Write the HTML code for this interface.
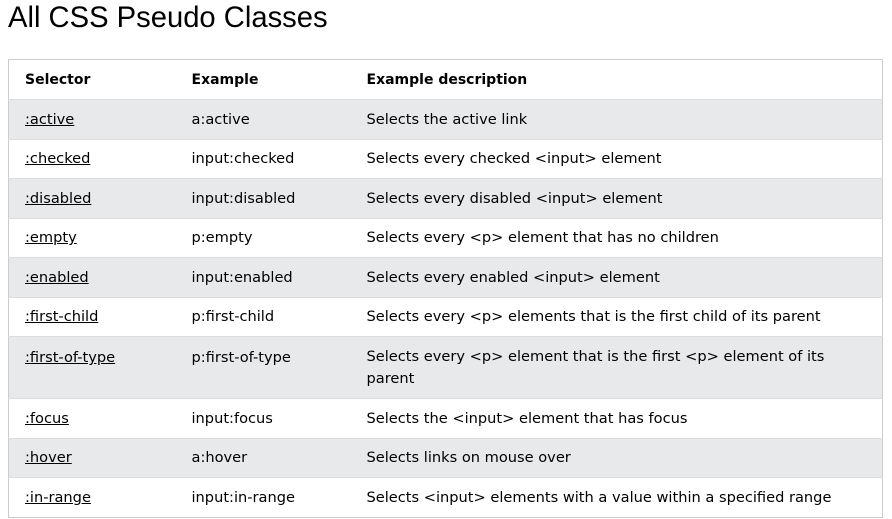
<!DOCTYPE html>
<html><head><style>
body{margin:0;background:#fff;font-family:"DejaVu Sans",sans-serif;color:#000;}
h1{position:absolute;left:8px;top:0px;margin:0;font-weight:normal;font-family:"Liberation Sans",sans-serif;font-size:29.2px;line-height:36px;}
table{position:absolute;left:8px;top:59px;width:875px;border-collapse:collapse;border:1px solid #ccc;font-size:14.6px;}
td,th{text-align:left;padding:1px 0 0 16px;vertical-align:middle;line-height:22px;}
th{height:38px;font-weight:bold;font-size:14px;}
td{height:37.5px;border-top:1px solid #ddd;}
tr.s td{background:#e7e9eb;}
a{color:#000;text-decoration:underline;}
</style></head><body>
<h1>All CSS Pseudo Classes</h1>
<table>
<colgroup><col style="width:167px"><col style="width:175px"><col></colgroup>
<tr><th>Selector</th><th>Example</th><th>Example description</th></tr>
<tr class="s"><td><a>:active</a></td><td>a:active</td><td>Selects the active link</td></tr>
<tr><td><a>:checked</a></td><td>input:checked</td><td>Selects every checked &lt;input&gt; element</td></tr>
<tr class="s"><td><a>:disabled</a></td><td>input:disabled</td><td>Selects every disabled &lt;input&gt; element</td></tr>
<tr><td><a>:empty</a></td><td>p:empty</td><td>Selects every &lt;p&gt; element that has no children</td></tr>
<tr class="s"><td><a>:enabled</a></td><td>input:enabled</td><td>Selects every enabled &lt;input&gt; element</td></tr>
<tr><td><a>:first-child</a></td><td>p:first-child</td><td>Selects every &lt;p&gt; elements that is the first child of its parent</td></tr>
<tr class="s"><td style="height:51px;vertical-align:top;padding-top:10px"><a>:first-of-type</a></td><td style="vertical-align:top;padding-top:10px">p:first-of-type</td><td style="padding-right:40px">Selects every &lt;p&gt; element that is the first &lt;p&gt; element of its<br>parent</td></tr>
<tr><td><a>:focus</a></td><td>input:focus</td><td>Selects the &lt;input&gt; element that has focus</td></tr>
<tr class="s"><td><a>:hover</a></td><td>a:hover</td><td>Selects links on mouse over</td></tr>
<tr><td><a>:in-range</a></td><td>input:in-range</td><td>Selects &lt;input&gt; elements with a value within a specified range</td></tr>
</table>
</body></html>
